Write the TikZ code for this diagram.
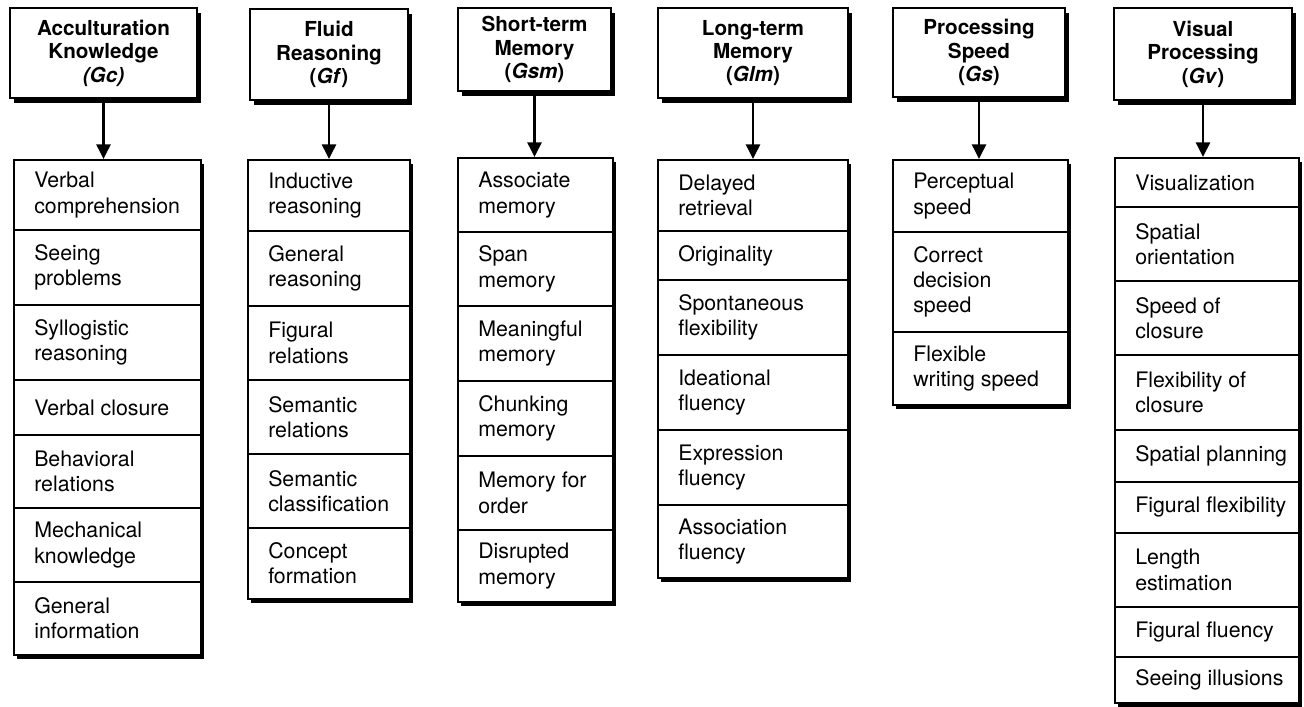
\documentclass[tikz,border=0pt]{standalone}
\usepackage{fontspec}
\setmainfont{TeX Gyre Heros}
\usetikzlibrary{arrows.meta,fit,shadows}

\newcommand\headfont{\bfseries\fontsize{15.5pt}{17.6pt}\selectfont}
\newcommand\itemfont{\fontsize{16pt}{19pt}\selectfont}

\tikzset{
  headbox/.style={draw=black, line width=1.5pt, fill=white, inner sep=0pt,
    align=center, font=\headfont,
    drop shadow={shadow xshift=2.8pt, shadow yshift=-3.4pt, opacity=1, fill=black}},
  listbox/.style={draw=black, line width=1.5pt, fill=white, inner sep=0pt,
    drop shadow={shadow xshift=2.6pt, shadow yshift=-3pt, opacity=1, fill=black}},
  divider/.style={line width=1pt},
  itemtext/.style={anchor=west, align=left, inner sep=0pt, font=\itemfont},
  link/.style={line width=1.9pt, -{Triangle[width=10.5pt,length=11pt]}},
}

% one list of abilities: frame name, left x, right x, then rows name/top/bottom/text
\newcommand\abilitylist[4]{%
  \foreach \n/\ya/\yb/\t in {#4} {
    \draw[divider] (#2,\yb) -- (#3,\yb);
    \node[itemtext] (\n) at ({#2+20},{(\ya+\yb)/2}) {\t};
  }
}

\begin{document}
\begin{tikzpicture}[x=0.75pt, y=-0.75pt]
\fill[white] (0,0) rectangle (1304,707);
\useasboundingbox (0,0) rectangle (1304,707);

% ---- factor boxes ----
\node[headbox, minimum width=140.25pt, minimum height=67.5pt] (gcHead) at (103.5,53)
  {Acculturation\\Knowledge\\\textit{(Gc)}};
\node[headbox, minimum width=118.5pt, minimum height=68.25pt] (gfHead) at (329,54.5)
  {Fluid\\Reasoning\\(\textit{Gf})};
\node[headbox, minimum width=114.75pt, minimum height=62.25pt] (gsmHead) at (534.5,49.5)
  {Short-term\\Memory\\(\textit{Gsm})};
\node[headbox, minimum width=142.5pt, minimum height=67.5pt] (glmHead) at (753,53)
  {Long-term\\Memory\\(\textit{Glm})};
\node[headbox, minimum width=129pt, minimum height=66.75pt] (gsHead) at (979,52.5)
  {Processing\\Speed\\(\textit{Gs})};
\node[headbox, minimum width=133.5pt, minimum height=69pt] (gvHead) at (1203,54)
  {Visual\\Processing\\(\textit{Gv})};

% ---- ability lists ----
\node[listbox, fit={(14,160) (201,655)}] (gcList) {};
\abilitylist{gcList}{14}{201}{%
  gc1/160/230/{Verbal\\comprehension},
  gc2/230/305/{Seeing\\problems},
  gc3/305/380/{Syllogistic\\reasoning},
  gc4/380/435/{Verbal closure},
  gc5/435/508/{Behavioral\\relations},
  gc6/508/582/{Mechanical\\knowledge},
  gc7/582/655/{General\\information}}

\node[listbox, fit={(248,160) (410,599)}] (gfList) {};
\abilitylist{gfList}{248}{410}{%
  gf1/160/231/{Inductive\\reasoning},
  gf2/231/306/{General\\reasoning},
  gf3/306/380/{Figural\\relations},
  gf4/380/454/{Semantic\\relations},
  gf5/454/528/{Semantic\\classification},
  gf6/528/599/{Concept\\formation}}

\node[listbox, fit={(458,158) (613,602)}] (gsmList) {};
\abilitylist{gsmList}{458}{613}{%
  gsm1/158/232/{Associate\\memory},
  gsm2/232/306/{Span\\memory},
  gsm3/306/381/{Meaningful\\memory},
  gsm4/381/456/{Chunking\\memory},
  gsm5/456/530/{Memory for\\order},
  gsm6/530/602/{Disrupted\\memory}}

\node[listbox, fit={(658,160) (848,578)}] (glmList) {};
\abilitylist{glmList}{658}{848}{%
  glm1/160/231/{Delayed\\retrieval},
  glm2/231/280/{Originality},
  glm3/280/355/{Spontaneous\\flexibility},
  glm4/355/430/{Ideational\\fluency},
  glm5/430/505/{Expression\\fluency},
  glm6/505/578/{Association\\fluency}}

\node[listbox, fit={(893,160) (1068,405)}] (gsList) {};
\abilitylist{gsList}{893}{1068}{%
  gs1/160/232/{Perceptual\\speed},
  gs2/232/332/{Correct\\decision\\speed},
  gs3/332/405/{Flexible\\writing speed}}

\node[listbox, fit={(1115,158) (1299,703)}] (gvList) {};
\abilitylist{gvList}{1115}{1299}{%
  gv1/158/207/{Visualization},
  gv2/207/281/{Spatial\\orientation},
  gv3/281/355/{Speed of\\closure},
  gv4/355/430/{Flexibility of\\closure},
  gv5/430/482/{Spatial planning},
  gv6/482/533/{Figural flexibility},
  gv7/533/607/{Length\\estimation},
  gv8/607/657/{Figural fluency},
  gv9/657/703/{Seeing illusions}}

% ---- arrows from each factor to its abilities ----
\foreach \f in {gc,gf,gsm,glm,gs,gv}
  \draw[link] (\f Head.south) -- (\f Head.south |- \f List.north);
\end{tikzpicture}
\end{document}
